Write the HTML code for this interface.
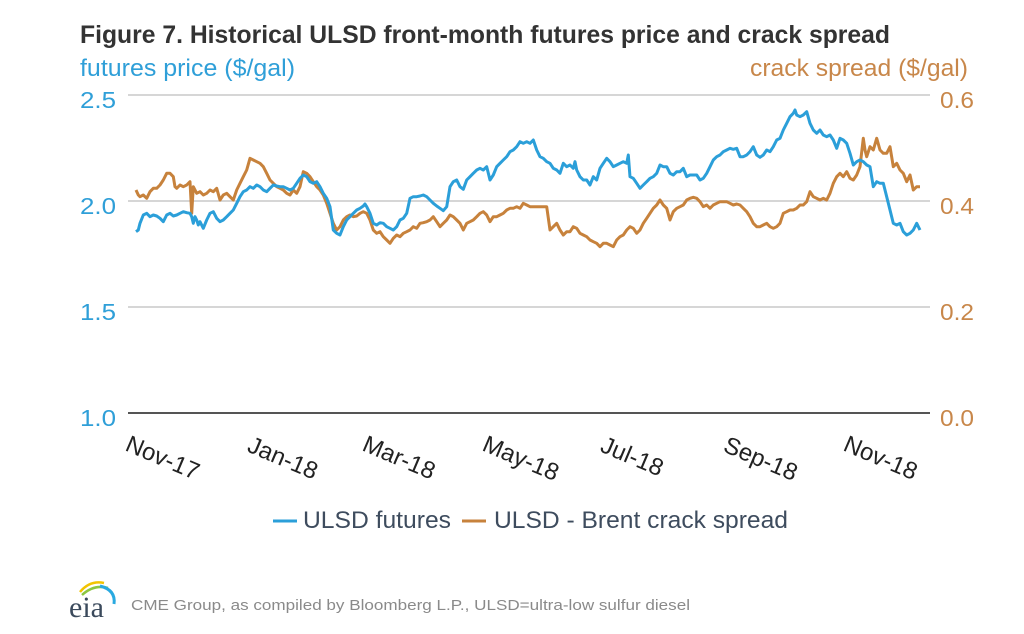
<!DOCTYPE html>
<html><head><meta charset="utf-8"><style>
html,body{margin:0;padding:0;background:#fff;}
svg{display:block;}
text{font-family:"Liberation Sans",Arial,sans-serif;}
</style></head><body>
<svg width="1024" height="634" viewBox="0 0 1024 634" xmlns="http://www.w3.org/2000/svg">
<rect width="1024" height="634" fill="#fff"/>
<text x="80" y="43" font-size="25" font-weight="bold" fill="#333" textLength="810" lengthAdjust="spacingAndGlyphs">Figure 7. Historical ULSD front-month futures price and crack spread</text>
<text x="80" y="76" font-size="24.5" fill="#2f9fd8" textLength="215" lengthAdjust="spacingAndGlyphs">futures price ($/gal)</text>
<text x="750" y="76" font-size="24.5" fill="#c8874a" textLength="218" lengthAdjust="spacingAndGlyphs">crack spread ($/gal)</text>
<g stroke="#c8c8c8" stroke-width="1.5">
<line x1="128" y1="95" x2="930" y2="95"/>
<line x1="128" y1="201" x2="930" y2="201"/>
<line x1="128" y1="307" x2="930" y2="307"/>
</g>
<line x1="128" y1="413" x2="930" y2="413" stroke="#555" stroke-width="2"/>
<g font-size="23.5" fill="#2f9fd8">
<text x="80" y="108" textLength="36" lengthAdjust="spacingAndGlyphs">2.5</text>
<text x="80" y="214" textLength="36" lengthAdjust="spacingAndGlyphs">2.0</text>
<text x="80" y="320" textLength="36" lengthAdjust="spacingAndGlyphs">1.5</text>
<text x="80" y="426" textLength="36" lengthAdjust="spacingAndGlyphs">1.0</text>
</g>
<g font-size="23.5" fill="#c8874a">
<text x="940" y="108" textLength="34" lengthAdjust="spacingAndGlyphs">0.6</text>
<text x="940" y="214" textLength="34" lengthAdjust="spacingAndGlyphs">0.4</text>
<text x="940" y="320" textLength="34" lengthAdjust="spacingAndGlyphs">0.2</text>
<text x="940" y="426" textLength="34" lengthAdjust="spacingAndGlyphs">0.0</text>
</g>
<g font-size="24" fill="#222">
<text transform="translate(124,450) rotate(23)">Nov-17</text>
<text transform="translate(246,451) rotate(23)">Jan-18</text>
<text transform="translate(361,450) rotate(23)">Mar-18</text>
<text transform="translate(481,450) rotate(23)">May-18</text>
<text transform="translate(599,451) rotate(23)">Jul-18</text>
<text transform="translate(722,451) rotate(23)">Sep-18</text>
<text transform="translate(842,450) rotate(23)">Nov-18</text>
</g>
<polyline fill="none" stroke="#c7823c" stroke-width="3" stroke-linejoin="round" points="136,190 138.3,195 140,196.7 143.3,195 146.7,198.3 150,191.7 153.3,188.3 156.7,188.3 160,185 163.3,180 166.7,173.3 170,173.3 173.3,176.7 175,186.7 176.7,188.3 180,185 183.3,186.7 186.7,185 190,181.7 191.7,213.3 193.3,186.7 196.7,193.3 200,191.7 203.3,195 206.7,193.3 210,190 213.3,191.7 216.7,188.3 220,200 223.3,195 226.7,193.3 230,196.7 233.3,200 236.7,190 240,183.3 243.3,176.7 246.7,170 250,158.3 253.3,160 256.7,161.7 260,163.3 263.3,166.7 266.7,173.3 270,180 273.3,183.3 276.7,186.7 280,188.3 283.3,190 286.7,193.3 290,195 293.3,190 296.7,193.3 300,186.7 303.3,171.7 306.7,173.3 310,176.7 313.3,181.7 316.7,186.7 320,190 323.3,195 326.7,203.3 330,213.3 333.3,223.3 336.7,230 340,226.7 343.3,220 346.7,216.7 350,215 353.3,216.7 356.7,216 360,213.3 363.3,211.7 366.7,213.3 370,220 373.3,230 376.7,233.3 380,231.7 383.3,236.7 386.7,240 390,243.3 393.3,238.3 396.7,235 400,236.7 403.3,233.3 406.7,231.7 410,230 413.3,226.7 416.7,228.3 420,223.3 423.3,222.7 426.7,221.7 430,220 433.3,216.7 436.7,221.7 440,226.7 443.3,223.3 446.7,220 450,215 453.3,216.7 456.7,220 460,223.3 463.3,230 466.7,223.3 470,221.7 473.3,220 476.7,216.7 480,213.3 483.3,211.7 486.7,215 490,221.7 493.3,216.7 496.7,216.7 500,215 503.3,213.3 506.7,210 510,208.3 513.3,208.3 516.7,206.7 520,208.3 523.3,203.3 526.7,205 530,206.7 546.7,206.7 550,230 553.3,226.7 556.7,223.3 560,230 563.3,235 566.7,231.7 570,231.7 573.3,226.7 576.7,228.3 580,233.3 583.3,235 586.7,236.7 590,240 593.3,241.7 596.7,243.3 600,246.7 603.3,243.3 606.7,243.3 610,245 613.3,246.7 616.7,240 620,236.7 623.3,235 626.7,230 630,226.7 633.3,228.3 636.7,233.3 640,230 643.3,223.3 646.7,218.3 650,213.3 653.3,208.3 656.7,205 660,200 663.3,205 666.7,208.3 670,220 673.3,211.7 676.7,208.3 680,206.7 683.3,205 686.7,200 690,198.3 693.3,197.3 696.7,198.3 700,201.7 703.3,206.7 706.7,205 710,208.3 713.3,205 716.7,203.3 720,201.7 726.7,201.7 730,203.3 733.3,205 736.7,204 740,205 743.3,208.3 746.7,211.7 750,216.7 753.3,223.3 756.7,226.7 760,226.7 763.3,225 766.7,223.3 770,226.7 773.3,228.3 776.7,226.7 780,223.3 783.3,213.3 786.7,211.7 790,210 793.3,210 796.7,208.3 800,205 803.3,205 806.7,201.7 810,191.7 813.3,196.7 816.7,198.3 820,200 823.3,198.3 826.7,200 830,193.3 833.3,183.3 836.7,176.7 840,173.3 843.3,176.7 846.7,171.7 850,178.3 853.3,180 856.7,175 860,166.7 863.3,138.3 865,150 866.7,156.7 870,146.7 873.3,150 876.7,138.3 880,150 883.3,153.3 886.7,153.3 890,146.7 893.3,166.7 896.7,163.3 900,170 903.3,173.3 906.7,181.7 910,175 913.3,190 916.7,186.7 920,186.7"/>
<polyline fill="none" stroke="#2b9fd9" stroke-width="3" stroke-linejoin="round" points="136,231.7 138.3,230 140,223.3 143.3,215 146.7,213.3 150,216.7 153.3,215 156.7,216 160,218.3 163.3,221.7 166.7,215 170,213.3 173.3,216 176.7,215 180,213.3 183.3,211.7 186.7,212.7 190,213.3 191.7,216.7 193.3,223.3 195,216.7 196.7,220 198.3,225 200,221.7 203.3,228.3 206.7,220 210,213.3 213.3,211.7 216.7,218.3 220,221.7 223.3,220 226.7,216.7 230,213.3 233.3,210 236.7,203.3 240,196.7 243.3,191.7 246.7,190 250,186.7 253.3,188.3 256.7,185 260,186.7 263.3,190 266.7,191.7 270,188.3 273.3,185 276.7,186 280,186.7 283.3,186.7 286.7,188.3 290,190 293.3,188.3 296.7,183.3 300,178.3 303.3,175 306.7,176.7 310,181.7 313.3,183.3 316.7,181.7 320,186.7 323.3,193.3 326.7,198.3 330,206.7 333.3,230 336.7,233.3 340,235 343.3,226.7 346.7,220 350,216.7 353.3,213.3 356.7,210 360,208.3 363.3,206 365,204 366.7,206.7 370,213.3 373.3,223.3 376.7,225 380,222.7 383.3,223.3 386.7,226.7 390,228.3 393.3,230 396.7,226.7 400,220 403.3,218.3 406.7,213.3 410,198.3 413.3,196.7 416.7,196.7 420,196 423.3,195 426.7,196.7 430,200 433.3,203.3 436.7,206 440,208.3 443.3,210.7 446.7,206.7 450,186.7 453.3,181.7 456.7,180 460,186.7 463.3,189.3 466.7,180 470,176.7 473.3,173.3 476.7,170 480,168.3 483.3,170 486.7,166.7 490,180 493.3,175 496.7,166.7 500,163.3 503.3,160 506.7,156.7 510,151.7 513.3,150 516.7,146.7 520,141.7 523.3,143.3 526.7,141.7 530,143.3 533.3,140 536.7,150 540,156.7 543.3,158.3 546.7,161.7 550,163.3 553.3,168.3 556.7,170 560,173.3 563.3,163.3 566.7,166.7 570,165 573.3,168.3 575,161.7 576.7,170 580,176.7 583.3,180 586.7,180 590,185 593.3,176.7 596.7,180 600,168.3 603.3,163.3 606.7,158.3 610,161.7 613.3,166.7 616.7,165 620,163.3 623.3,161.7 626.7,163.3 628.3,155 630,176.7 633.3,178.3 636.7,183.3 640,188.3 643.3,185 646.7,181.7 650,178.3 653.3,176.7 656.7,173.3 660,165 663.3,166.7 666.7,166.7 670,173.3 673.3,175 676.7,171.7 680,171.7 683.3,168.3 686.7,176.7 690,175 696.7,175 700,180 703.3,178.3 706.7,173.3 710,166.7 713.3,160 716.7,156.7 720,155 723.3,151.7 726.7,150 730,148.3 733.3,149.3 736.7,148.3 740,156.7 743.3,156.7 746.7,155 750,151.7 753.3,146.7 756.7,155 760,157.3 763.3,155 766.7,150 770,151.7 773.3,146.7 776.7,140 780,138.3 783.3,130 786.7,123.3 790,116.7 793.3,113.3 795,110 796.7,115 800,116.7 803.3,115 806.7,111.7 810,123.3 813.3,130 816.7,133.3 820,130 823.3,135 826.7,136.7 830,135 833.3,140 836.7,148.3 840,138.3 843.3,140 846.7,143.3 850,153.3 853.3,165 856.7,161.7 860,160 863.3,161.7 866.7,165 870,166.7 873.3,186.7 876.7,181.7 880,183.3 883.3,183.3 886.7,196.7 890,210 893.3,223.3 896.7,225 900,223.3 903.3,231.7 906.7,235 910,233.3 913.3,230 916.7,223.3 920,230"/>
<line x1="273" y1="521" x2="297" y2="521" stroke="#2b9fd9" stroke-width="3"/>
<text x="303" y="528" font-size="24" fill="#3e4c5e" textLength="148" lengthAdjust="spacingAndGlyphs">ULSD futures</text>
<line x1="462" y1="521" x2="486" y2="521" stroke="#c7823c" stroke-width="3"/>
<text x="494" y="528" font-size="24" fill="#3e4c5e" textLength="294" lengthAdjust="spacingAndGlyphs">ULSD - Brent crack spread</text>
<path d="M80,592 Q90,580 104,583" fill="none" stroke="#f2c400" stroke-width="2.5"/>
<path d="M82,595 Q94,584 108,588" fill="none" stroke="#8cc63f" stroke-width="2.5"/>
<path d="M100,586 Q116,590 114,604" fill="none" stroke="#29a9e0" stroke-width="3"/>
<text x="69" y="617" style="font-family:'Liberation Serif',serif" font-size="30" fill="#3b4a5c">eia</text>
<text x="131" y="610" font-size="14.5" fill="#8a8a8a" textLength="559" lengthAdjust="spacingAndGlyphs">CME Group, as compiled by Bloomberg L.P., ULSD=ultra-low sulfur diesel</text>
</svg>
</body></html>
